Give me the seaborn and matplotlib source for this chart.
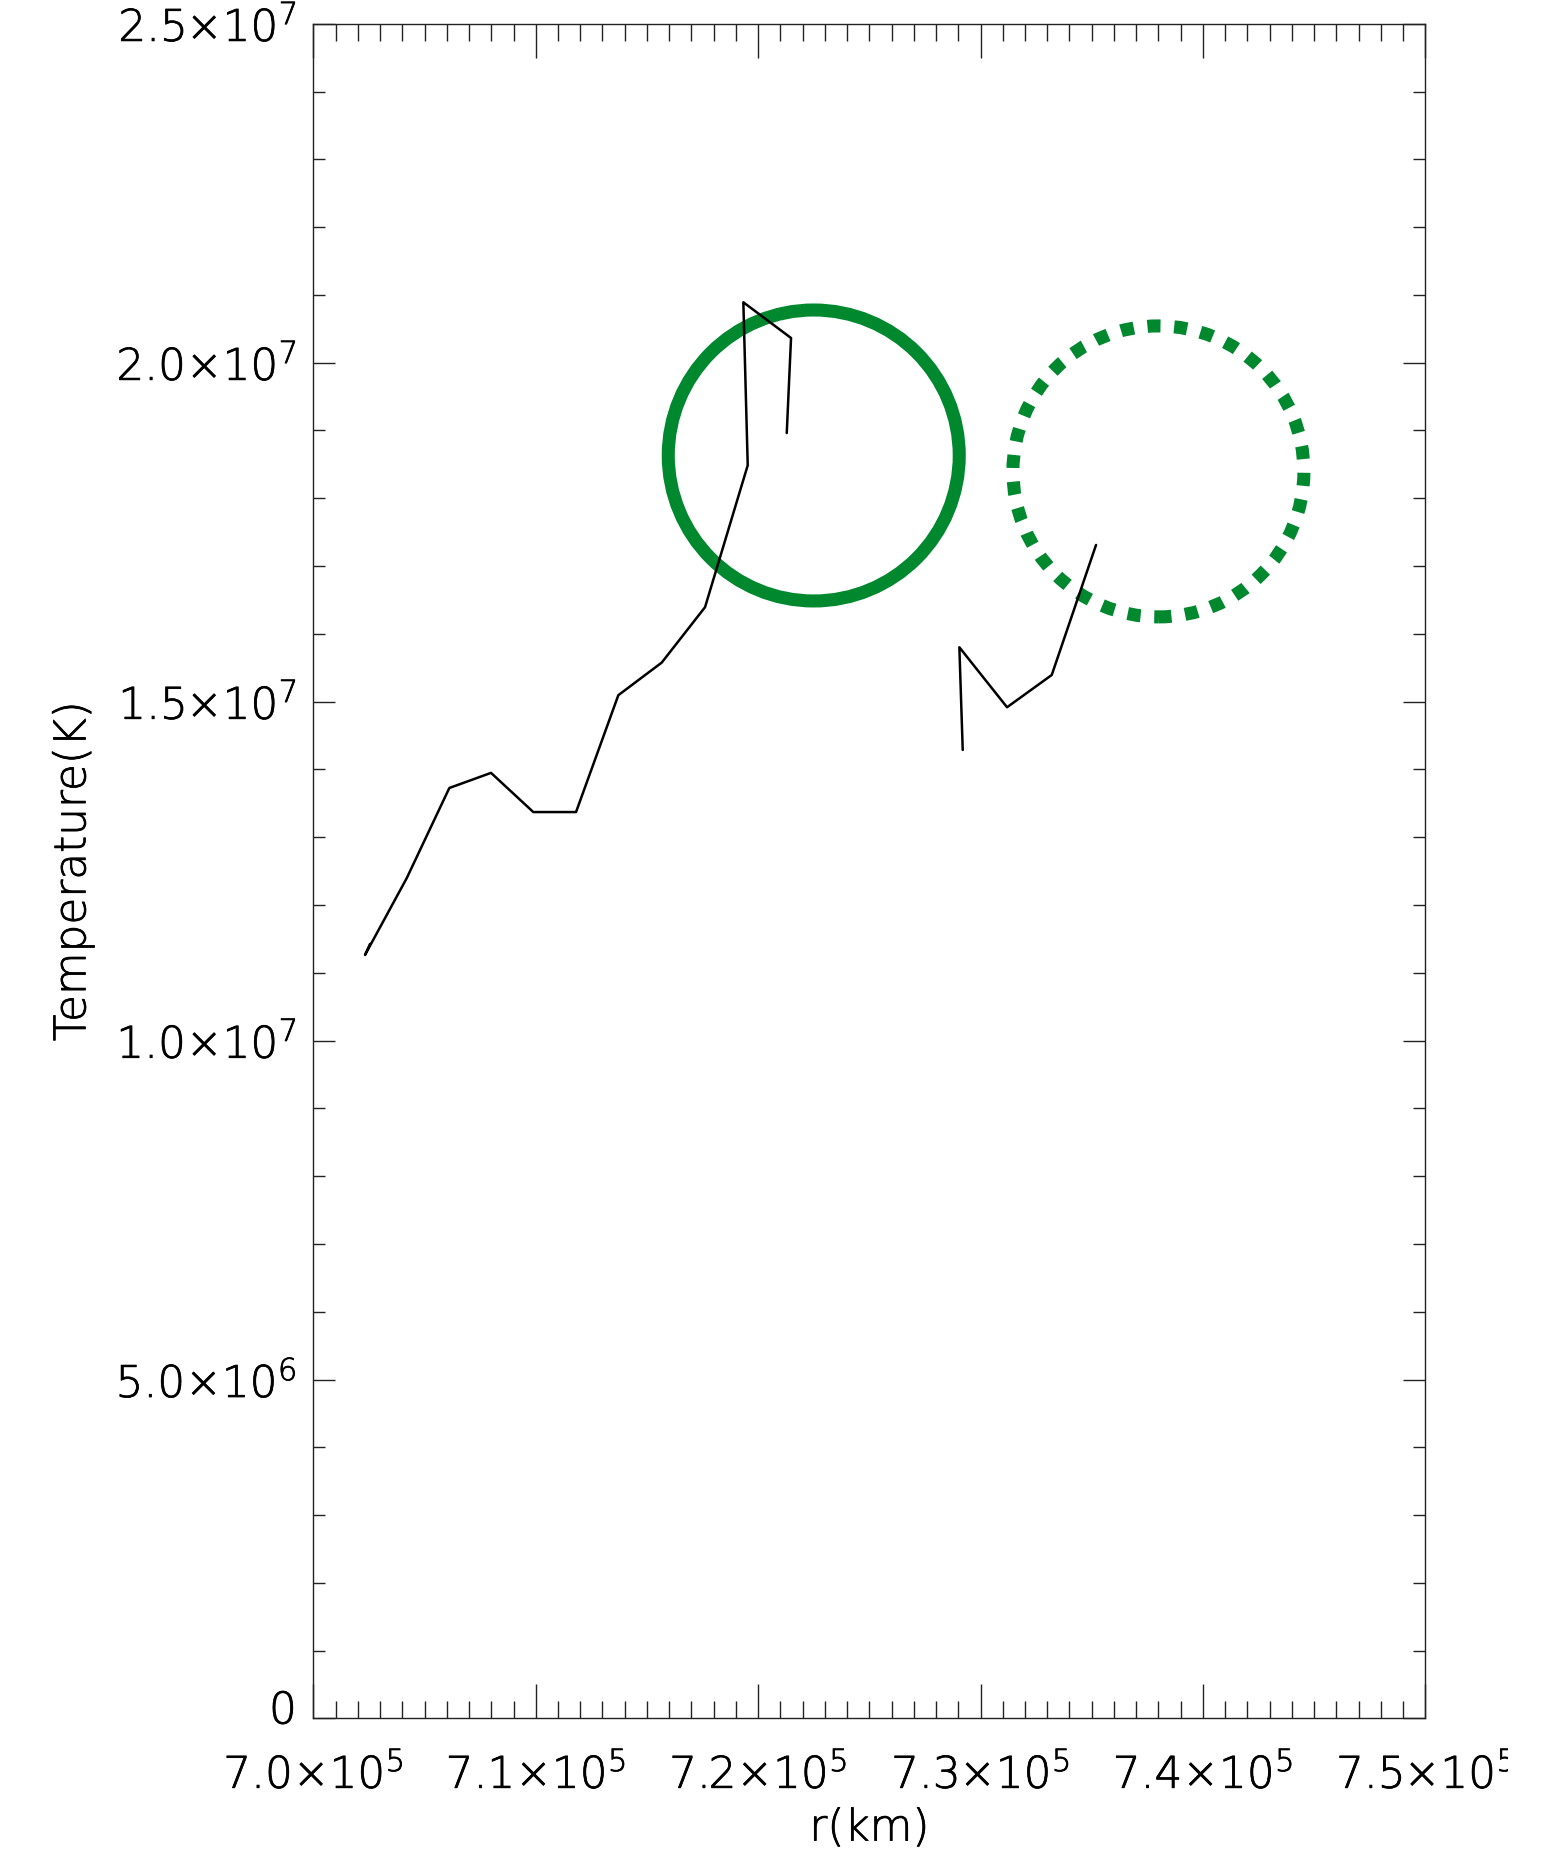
import os
import numpy as np
import pandas as pd
import matplotlib
matplotlib.use("Agg")
import matplotlib.pyplot as plt
from matplotlib import font_manager
from matplotlib import patheffects
from matplotlib.ticker import FixedLocator, MultipleLocator, FixedFormatter
from matplotlib.transforms import ScaledTranslation, Bbox
import seaborn as sns

# Temperature profile along r: two separate traced runs
r_run1 = [702545, 702320, 704196, 706112, 707987, 709889, 711810,
          713712, 715664, 717611, 719531, 719334, 721479, 721286]
t_run1 = [1.1425e7, 1.1263e7, 1.2396e7, 1.3726e7, 1.3949e7, 1.3371e7, 1.3371e7,
          1.5095e7, 1.5576e7, 1.6393e7, 1.8486e7, 2.0891e7, 2.0364e7, 1.8962e7]
r_run2 = [729200, 729048, 731193, 733203, 735195]
t_run2 = [1.4287e7, 1.5802e7, 1.4917e7, 1.5393e7, 1.7311e7]

# Ring markers (solid and dotted)
ring_r = [722500, 738000]
ring_t = [1.8631e7, 1.8396e7]
ring_style = ["solid", "dotted"]

# Axis ticks and labels
x_major = [700000, 710000, 720000, 730000, 740000, 750000]
x_labels = [r"$\mathrm{7.0×10^{5}}$", r"$\mathrm{7.1×10^{5}}$", r"$\mathrm{7.2×10^{5}}$",
            r"$\mathrm{7.3×10^{5}}$", r"$\mathrm{7.4×10^{5}}$", r"$\mathrm{7.5×10^{5}}$"]
y_major = [0, 5.0e6, 1.0e7, 1.5e7, 2.0e7, 2.5e7]
y_labels = ["0", r"$\mathrm{5.0×10^{6}}$", r"$\mathrm{1.0×10^{7}}$",
            r"$\mathrm{1.5×10^{7}}$", r"$\mathrm{2.0×10^{7}}$", r"$\mathrm{2.5×10^{7}}$"]


def pick_font(candidates):
    """Return the first (family, weight, size) whose thin face is installed."""
    for fam, weight, tag, size in candidates:
        fp = font_manager.FontProperties(family=fam, weight=weight)
        try:
            path = font_manager.findfont(fp, fallback_to_default=False)
        except ValueError:
            continue
        if tag in os.path.basename(path).lower():
            return fam, weight, size
    return "DejaVu Sans", 400, 31.5


sns.set_theme(style="ticks")
family, weight, FS = pick_font([
    ("DejaVu Sans", 200, "extralight", 31.5),
    ("Open Sans", 300, "light", 33.5),
    ("Roboto", 300, "light", 33.5),
    ("Lato", 300, "light", 33.5),
])
plt.rcParams["font.family"] = [family]
plt.rcParams["font.weight"] = weight
plt.rcParams["axes.labelweight"] = weight
plt.rcParams["mathtext.fontset"] = "custom"
plt.rcParams["mathtext.rm"] = f"{family}:weight={weight}"
plt.rcParams["mathtext.it"] = f"{family}:weight={weight}"
plt.rcParams["axes.unicode_minus"] = False

GREEN = "#00882e"
# slightly firmer strokes for the thin typeface
text_fx = [patheffects.withStroke(linewidth=0.55, foreground="black")]

profile = pd.DataFrame({
    "r": r_run1 + r_run2,
    "T": t_run1 + t_run2,
    "run": ["a"] * len(r_run1) + ["b"] * len(r_run2),
})

fig = plt.figure(figsize=(15.47, 18.54), dpi=100)
ax = fig.add_axes([0.2026, 0.0731, 0.7187, 0.9141])

# rings drawn beneath the profile
for rr, tt, ls in zip(ring_r, ring_t, ring_style):
    sns.scatterplot(x=[rr], y=[tt], ax=ax, marker="o", s=209.5 ** 2,
                    facecolors="none", edgecolor=GREEN, linewidth=9.4,
                    linestyle=(0, (1.0, 1.05)) if ls == "dotted" else "solid",
                    zorder=2, legend=False)

sns.lineplot(data=profile, x="r", y="T", units="run", estimator=None, sort=False,
             color="black", linewidth=1.8, ax=ax, zorder=3, legend=False)

ax.set_xlim(700000, 750000)
ax.set_ylim(0, 2.5e7)

ax.xaxis.set_major_locator(FixedLocator(x_major))
ax.xaxis.set_major_formatter(FixedFormatter(x_labels))
ax.xaxis.set_minor_locator(MultipleLocator(1000))
ax.yaxis.set_major_locator(FixedLocator(y_major))
ax.yaxis.set_major_formatter(FixedFormatter(y_labels))
ax.yaxis.set_minor_locator(MultipleLocator(1.0e6))

ax.tick_params(which="both", direction="in", top=True, right=True,
               color="#222222", width=1.0, labelsize=FS, labelcolor="black")
ax.tick_params(axis="x", which="major", length=24.5, pad=25)
ax.tick_params(axis="x", which="minor", length=12.2)
ax.tick_params(axis="y", which="major", length=15.8, pad=12)
ax.tick_params(axis="y", which="minor", length=8.3)

for sp in ax.spines.values():
    sp.set_visible(True)
    sp.set_linewidth(1.0)
    sp.set_color("#222222")

ax.set_xlabel("r(km)", fontsize=FS, color="black", fontweight=weight)
ax.set_ylabel("Temperature(K)", fontsize=FS, color="black", fontweight=weight)
ax.xaxis.set_label_coords(0.5, -0.052)
ax.yaxis.set_label_coords(-0.197, 0.5)
ax.grid(False)
ax.set_facecolor("white")
fig.patch.set_facecolor("white")

for lbl in ax.get_xticklabels() + ax.get_yticklabels() + [ax.xaxis.label, ax.yaxis.label]:
    lbl.set_path_effects(text_fx)

# lift the "0" label clear of the bottom axis labels
zero_tick = ax.yaxis.get_major_ticks()[0]
zero_tick.label1.set_transform(zero_tick.label1.get_transform()
                               + ScaledTranslation(0, 0.12, fig.dpi_scale_trans))

# the last r label runs off the plotting window on the right
last_tick = ax.xaxis.get_major_ticks()[-1]
last_tick.label1.set_clip_box(Bbox.from_extents(0, 0, 1508, 1854))
last_tick.label1.set_clip_on(True)

fig.savefig("out.png", dpi=100)
